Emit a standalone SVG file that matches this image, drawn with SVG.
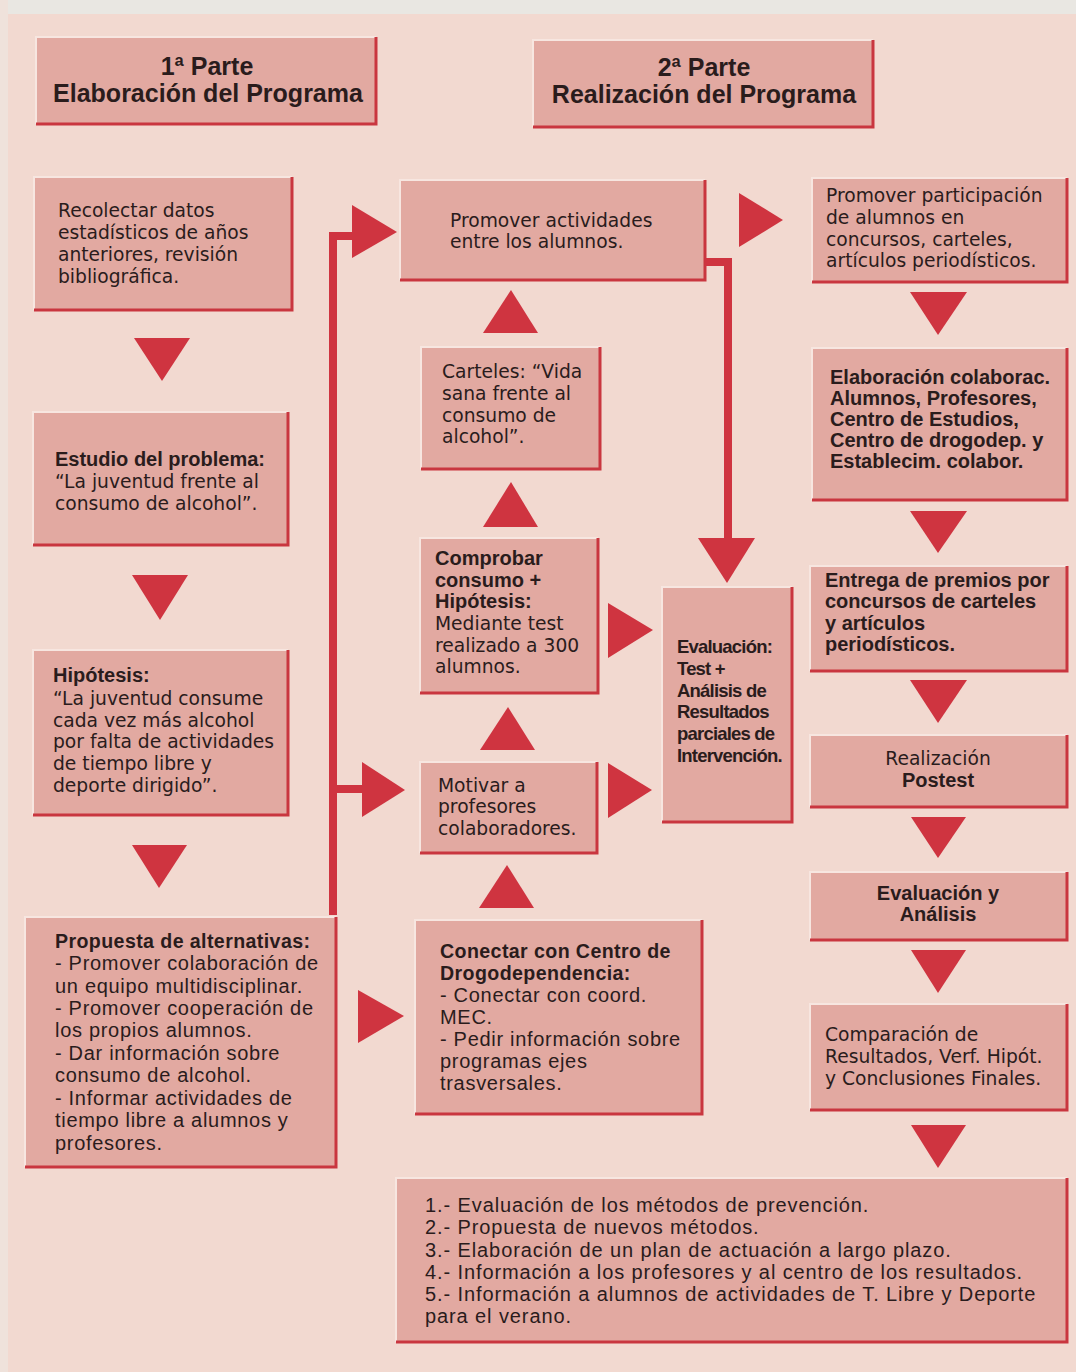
<svg xmlns="http://www.w3.org/2000/svg" width="1076" height="1372" viewBox="0 0 1076 1372">
<style>
.bg{fill:#f2d9d0}
.box{fill:#e2a9a1}
.sh{fill:none;stroke:#c9363f;stroke-width:3}
.hl{fill:none;stroke:#f7e6e0;stroke-width:2}
.tri{fill:#cf3440}
.ln{fill:none;stroke:#cf3440;stroke-width:8;stroke-linejoin:miter}
text{fill:#2a1c1c}
.r{font-family:"DejaVu Sans",sans-serif;font-size:18.7px}
.b{font-family:"Liberation Sans",Arial,sans-serif;font-weight:bold;font-size:20px}
.h{font-family:"Liberation Sans",Arial,sans-serif;font-weight:bold;font-size:25px;text-anchor:middle}
.cr{font-family:"Liberation Sans",Arial,sans-serif;font-size:20px;letter-spacing:0.7px}
.lr{font-family:"Liberation Sans",Arial,sans-serif;font-size:20px;letter-spacing:0.9px}
.cb{font-family:"Liberation Sans",Arial,sans-serif;font-weight:bold;font-size:19.6px;letter-spacing:0.4px}
.eb{font-family:"Liberation Sans",Arial,sans-serif;font-weight:bold;font-size:18.5px;letter-spacing:-0.8px}
.c{text-anchor:middle}
</style>
<rect class="bg" x="0" y="0" width="1076" height="1372"/>
<rect x="0" y="0" width="1076" height="14" fill="#e9e7e2"/>
<rect x="0" y="0" width="8" height="1372" fill="#efe2db"/>

<g id="h1">
<rect class="box" x="36" y="37" width="340" height="87"/>
<path class="hl" d="M36,124 V37 H376"/><path class="sh" d="M36,124 H376 V37"/>
<text class="h" x="207" y="75">1ª Parte</text>
<text class="h" x="208" y="102">Elaboración del Programa</text>
</g>
<g id="h2">
<rect class="box" x="533" y="40" width="340" height="87"/>
<path class="hl" d="M533,127 V40 H873"/><path class="sh" d="M533,127 H873 V40"/>
<text class="h" x="704" y="76">2ª Parte</text>
<text class="h" x="704" y="103">Realización del Programa</text>
</g>

<g id="recolectar">
<rect class="box" x="34" y="177" width="258" height="133"/>
<path class="hl" d="M34,310 V177 H292"/><path class="sh" d="M34,310 H292 V177"/>
<text class="r" x="58" y="217">Recolectar datos</text>
<text class="r" x="58" y="239">estadísticos de años</text>
<text class="r" x="58" y="261">anteriores, revisión</text>
<text class="r" x="58" y="283">bibliográfica.</text>
</g>
<g id="estudio">
<rect class="box" x="33" y="412" width="255" height="133"/>
<path class="hl" d="M33,545 V412 H288"/><path class="sh" d="M33,545 H288 V412"/>
<text class="b" x="55" y="466">Estudio del problema:</text>
<text class="r" x="55" y="488">“La juventud frente al</text>
<text class="r" x="55" y="510">consumo de alcohol”.</text>
</g>
<g id="hipotesis">
<rect class="box" x="33" y="650" width="255" height="165"/>
<path class="hl" d="M33,815 V650 H288"/><path class="sh" d="M33,815 H288 V650"/>
<text class="b" x="53" y="682">Hipótesis:</text>
<text class="r" x="53" y="705">“La juventud consume</text>
<text class="r" x="53" y="727">cada vez más alcohol</text>
<text class="r" x="53" y="748">por falta de actividades</text>
<text class="r" x="53" y="770">de tiempo libre y</text>
<text class="r" x="53" y="792">deporte dirigido”.</text>
</g>
<g id="propuesta">
<rect class="box" x="25" y="917" width="311" height="250"/>
<path class="hl" d="M25,1167 V917 H336"/><path class="sh" d="M25,1167 H336 V917"/>
<text class="cb" x="55" y="948">Propuesta de alternativas:</text>
<text class="cr" x="55" y="970">- Promover colaboración de</text>
<text class="cr" x="55" y="993">un equipo multidisciplinar.</text>
<text class="cr" x="55" y="1015">- Promover cooperación de</text>
<text class="cr" x="55" y="1037">los propios alumnos.</text>
<text class="cr" x="55" y="1060">- Dar información sobre</text>
<text class="cr" x="55" y="1082">consumo de alcohol.</text>
<text class="cr" x="55" y="1105">- Informar actividades de</text>
<text class="cr" x="55" y="1127">tiempo libre a alumnos y</text>
<text class="cr" x="55" y="1150">profesores.</text>
</g>

<g id="promover-actividades">
<rect class="box" x="400" y="180" width="305" height="100"/>
<path class="hl" d="M400,280 V180 H705"/><path class="sh" d="M400,280 H705 V180"/>
<text class="r" x="450" y="227">Promover actividades</text>
<text class="r" x="450" y="248">entre los alumnos.</text>
</g>
<g id="carteles">
<rect class="box" x="421" y="347" width="179" height="122"/>
<path class="hl" d="M421,469 V347 H600"/><path class="sh" d="M421,469 H600 V347"/>
<text class="r" x="442" y="378">Carteles: “Vida</text>
<text class="r" x="442" y="400">sana frente al</text>
<text class="r" x="442" y="422">consumo de</text>
<text class="r" x="442" y="443">alcohol”.</text>
</g>
<g id="comprobar">
<rect class="box" x="420" y="538" width="178" height="155"/>
<path class="hl" d="M420,693 V538 H598"/><path class="sh" d="M420,693 H598 V538"/>
<text class="b" x="435" y="565">Comprobar</text>
<text class="b" x="435" y="587">consumo +</text>
<text class="b" x="435" y="608">Hipótesis:</text>
<text class="r" x="435" y="630">Mediante test</text>
<text class="r" x="435" y="652">realizado a 300</text>
<text class="r" x="435" y="673">alumnos.</text>
</g>
<g id="motivar">
<rect class="box" x="420" y="762" width="177" height="91"/>
<path class="hl" d="M420,853 V762 H597"/><path class="sh" d="M420,853 H597 V762"/>
<text class="r" x="438" y="792">Motivar a</text>
<text class="r" x="438" y="813">profesores</text>
<text class="r" x="438" y="835">colaboradores.</text>
</g>
<g id="evaluacion-parcial">
<rect class="box" x="662" y="587" width="130" height="235"/>
<path class="hl" d="M662,822 V587 H792"/><path class="sh" d="M662,822 H792 V587"/>
<text class="eb" x="677" y="653">Evaluación:</text>
<text class="eb" x="677" y="675">Test +</text>
<text class="eb" x="677" y="697">Análisis de</text>
<text class="eb" x="677" y="718">Resultados</text>
<text class="eb" x="677" y="740">parciales de</text>
<text class="eb" x="677" y="762">Intervención.</text>
</g>
<g id="conectar">
<rect class="box" x="415" y="920" width="287" height="194"/>
<path class="hl" d="M415,1114 V920 H702"/><path class="sh" d="M415,1114 H702 V920"/>
<text class="cb" x="440" y="958">Conectar con Centro de</text>
<text class="cb" x="440" y="980">Drogodependencia:</text>
<text class="cr" x="440" y="1002">- Conectar con coord.</text>
<text class="cr" x="440" y="1024">MEC.</text>
<text class="cr" x="440" y="1046">- Pedir información sobre</text>
<text class="cr" x="440" y="1068">programas ejes</text>
<text class="cr" x="440" y="1090">trasversales.</text>
</g>

<g id="promover-participacion">
<rect class="box" x="812" y="178" width="255" height="104"/>
<path class="hl" d="M812,282 V178 H1067"/><path class="sh" d="M812,282 H1067 V178"/>
<text class="r" x="826" y="202">Promover participación</text>
<text class="r" x="826" y="224">de alumnos en</text>
<text class="r" x="826" y="246">concursos, carteles,</text>
<text class="r" x="826" y="267">artículos periodísticos.</text>
</g>
<g id="elaboracion">
<rect class="box" x="812" y="348" width="255" height="152"/>
<path class="hl" d="M812,500 V348 H1067"/><path class="sh" d="M812,500 H1067 V348"/>
<text class="b" x="830" y="384">Elaboración colaborac.</text>
<text class="b" x="830" y="405">Alumnos, Profesores,</text>
<text class="b" x="830" y="426">Centro de Estudios,</text>
<text class="b" x="830" y="447">Centro de drogodep. y</text>
<text class="b" x="830" y="468">Establecim. colabor.</text>
</g>
<g id="entrega">
<rect class="box" x="810" y="566" width="257" height="105"/>
<path class="hl" d="M810,671 V566 H1067"/><path class="sh" d="M810,671 H1067 V566"/>
<text class="b" x="825" y="587">Entrega de premios por</text>
<text class="b" x="825" y="608">concursos de carteles</text>
<text class="b" x="825" y="630">y artículos</text>
<text class="b" x="825" y="651">periodísticos.</text>
</g>
<g id="postest">
<rect class="box" x="810" y="735" width="257" height="72"/>
<path class="hl" d="M810,807 V735 H1067"/><path class="sh" d="M810,807 H1067 V735"/>
<text class="r c" x="938" y="765">Realización</text>
<text class="b c" x="938" y="787">Postest</text>
</g>
<g id="evaluacion-analisis">
<rect class="box" x="810" y="872" width="257" height="68"/>
<path class="hl" d="M810,940 V872 H1067"/><path class="sh" d="M810,940 H1067 V872"/>
<text class="b c" x="938" y="900">Evaluación y</text>
<text class="b c" x="938" y="921">Análisis</text>
</g>
<g id="comparacion">
<rect class="box" x="810" y="1004" width="257" height="106"/>
<path class="hl" d="M810,1110 V1004 H1067"/><path class="sh" d="M810,1110 H1067 V1004"/>
<text class="r" x="825" y="1041">Comparación de</text>
<text class="r" x="825" y="1063">Resultados, Verf. Hipót.</text>
<text class="r" x="825" y="1085">y Conclusiones Finales.</text>
</g>
<g id="conclusiones">
<rect class="box" x="396" y="1178" width="671" height="164"/>
<path class="hl" d="M396,1342 V1178 H1067"/><path class="sh" d="M396,1342 H1067 V1178"/>
<text class="lr" x="425" y="1212">1.- Evaluación de los métodos de prevención.</text>
<text class="lr" x="425" y="1234">2.- Propuesta de nuevos métodos.</text>
<text class="lr" x="425" y="1257">3.- Elaboración de un plan de actuación a largo plazo.</text>
<text class="lr" x="425" y="1279">4.- Información a los profesores y al centro de los resultados.</text>
<text class="lr" x="425" y="1301">5.- Información a alumnos de actividades de T. Libre y Deporte</text>
<text class="lr" x="425" y="1323">para el verano.</text>
</g>

<g id="connectors">
<path class="ln" d="M333,915 V236 H356"/>
<path class="ln" d="M333,789 H365"/>
<path class="ln" d="M705,262 H728 V542"/>
<polygon class="tri" points="352,205 352,258 397,232"/>
<polygon class="tri" points="362,762 362,817 405,790"/>
<polygon class="tri" points="358,990 358,1043 404,1016"/>
<polygon class="tri" points="608,603 608,658 653,630"/>
<polygon class="tri" points="608,763 608,818 652,790"/>
<polygon class="tri" points="739,193 739,247 783,220"/>
<polygon class="tri" points="698,538 755,538 727,583"/>
<polygon class="tri" points="134,338 190,338 162,381"/>
<polygon class="tri" points="132,575 188,575 160,620"/>
<polygon class="tri" points="132,845 187,845 159,888"/>
<polygon class="tri" points="483,333 538,333 511,290"/>
<polygon class="tri" points="483,527 538,527 511,482"/>
<polygon class="tri" points="480,750 535,750 508,707"/>
<polygon class="tri" points="479,908 534,908 507,865"/>
<polygon class="tri" points="910,292 967,292 938,335"/>
<polygon class="tri" points="910,511 967,511 938,553"/>
<polygon class="tri" points="910,680 967,680 938,723"/>
<polygon class="tri" points="911,817 966,817 938,858"/>
<polygon class="tri" points="911,950 966,950 938,993"/>
<polygon class="tri" points="911,1125 966,1125 938,1168"/>
</g>
</svg>
